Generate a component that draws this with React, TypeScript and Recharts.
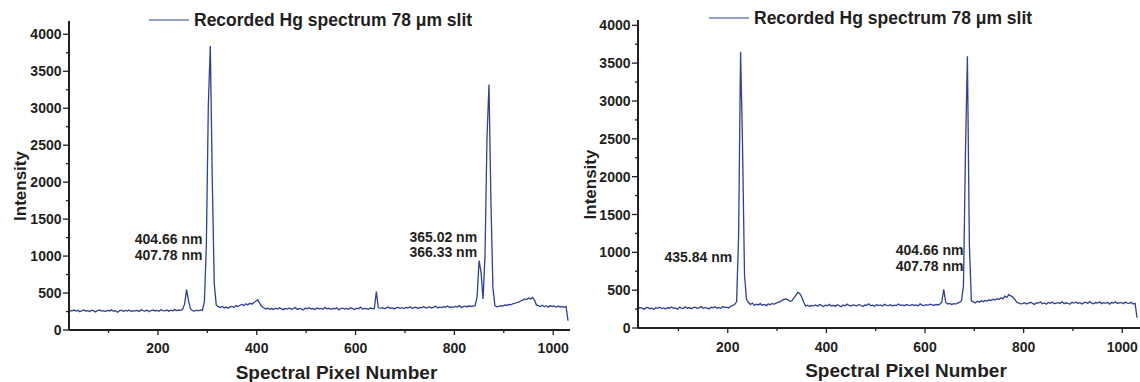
import React from 'react';
import { LineChart, Line, XAxis, YAxis, Legend, ReferenceDot } from 'recharts';

// ---------- data ----------
const PIXEL_START = 18;
const PIXEL_STEP = 4;

const seriesName = 'Recorded Hg spectrum 78 \u03bcm slit';

// left panel: intensity sampled every 4 spectral pixels starting at pixel 18
const leftIntensity = [
  250, 262, 258, 270, 255, 266, 248, 260, 272, 257,
  263, 251, 268, 259, 245, 264, 270, 256, 261, 249,
  266, 258, 273, 254, 262, 240, 259, 268, 253, 265,
  257, 271, 250, 263, 258, 266, 252, 274, 261, 255,
  269, 247, 263, 272, 258, 266, 253, 275, 262, 258,
  270, 255, 268, 260, 276, 264,
  270, 265, 280, 350, 545, 390, 285, 262, 255, 268, 260, 272, 265,
  380, 1150, 3040, 3840, 2020, 625, 340,
  315, 305, 320, 298, 310, 295, 312, 320, 305, 330, 318, 335, 345, 330, 355, 340, 362, 350, 370, 390, 410, 360, 320, 300, 285, 295, 280,
  290, 278, 295, 283, 300, 286, 275, 292, 284, 298,
  281, 289, 304, 279, 293, 286, 270, 295, 288, 301,
  283, 290, 276, 297, 285, 292, 280, 306, 287, 294,
  279, 291, 285, 299, 272, 290, 296, 284, 293, 281,
  300, 288, 277, 295, 286, 309, 283, 292, 290, 280,
  297, 288,
  292, 520, 300,
  295, 303, 288, 299, 310, 292, 301, 285, 298, 306, 294,
  302, 291, 306, 298, 314, 293, 301, 308, 290, 305, 300,
  318, 297, 305, 312, 296, 309, 322, 301, 310, 304, 316,
  308, 325, 303, 313, 306, 320, 311, 329, 305, 316, 322,
  312, 327, 318, 324, 330,
  450, 940, 780, 420, 1000, 2600, 3320, 1730, 570,
  330, 315, 320, 330, 325, 338, 332, 345, 340, 355,
  360, 372, 378, 392, 405, 420, 412, 432, 420, 440,
  405, 340, 330, 318, 335, 315, 328, 310, 330, 318,
  325, 308, 326, 312, 320, 306, 318, 125,
];

// right panel: intensity sampled every 4 spectral pixels starting at pixel 18
const rightIntensity = [
  258, 270, 262, 249, 266, 272, 255, 263, 245, 268,
  260, 274, 257, 265, 251, 270, 262, 278, 259, 266,
  248, 273, 264, 257, 281, 262, 270, 255, 268, 276,
  260, 266, 285, 258, 271, 263, 252, 274, 268, 280,
  262, 271, 258, 283, 270, 276, 265, 288,
  300, 310, 350, 1210, 3650, 2400, 700, 380, 340, 310, 330,
  298, 315, 305, 322, 300, 312, 296, 318, 308, 325, 314, 330, 340,
  345, 365, 378, 385, 372, 352, 360, 395, 430, 470, 455, 410, 340, 290, 302, 285, 298,
  292, 305, 288, 310, 298, 284, 302, 295, 312, 290,
  300, 286, 307, 296, 280, 303, 293, 315, 298, 289,
  306, 300, 292, 311, 297, 285, 304, 299, 320, 294,
  301, 288, 309, 296, 305, 291, 313, 300, 295, 308,
  290, 303, 297, 316, 299, 306, 293, 310, 301, 296,
  312, 298, 305, 292, 318, 303, 297, 309, 300, 314,
  306, 298, 311, 304, 316,
  340, 510, 340, 318, 325, 310, 322, 315, 330, 338, 360, 560, 2300, 3590, 1100, 360,
  345, 330, 352, 340, 360, 348, 365, 355, 372, 362,
  380, 370, 388, 378, 400, 385, 420, 405, 440, 425,
  410, 380, 340, 330, 318,
  322, 335, 318, 330, 340, 325, 312, 333, 328, 345,
  320, 331, 315, 338, 326, 342, 319, 330, 336, 324,
  348, 321, 333, 327, 314, 339, 330, 344, 323, 335,
  318, 332, 341, 326, 350, 329, 320, 337, 331, 345,
  322, 334, 327, 340, 316, 336, 329, 347, 324, 333,
  338, 321, 342, 330, 326, 339, 318, 325,
  135,
];

const xTicks = [100, 200, 300, 400, 500, 600, 700, 800, 900, 1000];
const xLabelTicks = [200, 400, 600, 800, 1000];
const yTicks = [0, 250, 500, 750, 1000, 1250, 1500, 1750, 2000, 2250, 2500, 2750, 3000, 3250, 3500, 3750, 4000];
const yLabelTicks = [0, 500, 1000, 1500, 2000, 2500, 3000, 3500, 4000];

const leftAnnotationLines = [['404.66 nm', '407.78 nm'], ['365.02 nm', '366.33 nm']];
const leftAnnotationAnchors = [[290, 1159], [846, 1194]];
const rightAnnotationLines = [['435.84 nm'], ['404.66 nm', '407.78 nm']];
const rightAnnotationAnchors = [[209, 876], [678, 964]];

const toData = (values: number[]) =>
  values.map((v, i) => ({ pixel: PIXEL_START + i * PIXEL_STEP, intensity: v }));

const leftData = toData(leftIntensity);
const rightData = toData(rightIntensity);

// ---------- styles ----------
const LINE_COLOR = '#2f4194';
const AXIS_COLOR = '#231f20';
const TEXT_COLOR = '#231f20';
const FONT = '"Liberation Sans", Arial, Helvetica, sans-serif';

const YTick = (props: any) => {
  const { x, y, payload } = props;
  const v = payload.value;
  const major = yLabelTicks.includes(v);
  const len = major ? 6 : 3;
  return (
    <g>
      <line x1={x - len} x2={x} y1={y} y2={y} stroke={AXIS_COLOR} strokeWidth={1.3} />
      {major && (
        <text x={x - 7.5} y={y} dy="0.36em" textAnchor="end" fontFamily={FONT} fontWeight="bold" fontSize={14} fill={TEXT_COLOR}>
          {v}
        </text>
      )}
    </g>
  );
};

const makeXTick = (labelDy: number) => (props: any) => {
  const { x, y, payload } = props;
  const v = payload.value;
  const major = xLabelTicks.includes(v);
  const len = major ? 5 : 3;
  return (
    <g>
      <line x1={x} x2={x} y1={y} y2={y + len} stroke={AXIS_COLOR} strokeWidth={1.3} />
      {major && (
        <text x={x} y={y + labelDy} textAnchor="middle" fontFamily={FONT} fontWeight="bold" fontSize={14} fill={TEXT_COLOR}>
          {v}
        </text>
      )}
    </g>
  );
};

const LegendBox = () => (
  <svg width={340} height={26} style={{ display: 'block', overflow: 'visible' }}>
    <line x1={0} x2={40} y1={12} y2={12} stroke={LINE_COLOR} strokeWidth={1.2} />
    <text x={45} y={17.5} fontFamily={FONT} fontWeight="bold" fontSize={17.5} fill={TEXT_COLOR}>
      {seriesName}
    </text>
  </svg>
);

const AnnotationText = ({ viewBox, lines }: any) => {
  if (!viewBox) return null;
  return (
    <text x={viewBox.x} y={viewBox.y} textAnchor="end" fontFamily={FONT} fontWeight="bold" fontSize={14} fill={TEXT_COLOR}>
      {lines.map((l: string, i: number) => (
        <tspan key={i} x={viewBox.x} dy={i === 0 ? 0 : 15.7}>
          {l}
        </tspan>
      ))}
    </text>
  );
};

type ChartProps = {
  data: { pixel: number; intensity: number }[];
  xDomain: [number, number];
  yDomain: [number, number];
  width: number;
  marginTop: number;
  marginRight: number;
  yAxisWidth: number;
  xAxisHeight: number;
  legendLeft: number;
  legendTop: number;
  xLabelDy: number;
  yTitleX: number;
  annotationLines: string[][];
  annotationAnchors: number[][];
};

const SpectrumChart = (p: ChartProps) => {
  const XTick = makeXTick(p.xLabelDy);
  return (
    <LineChart
      width={p.width}
      height={382}
      data={p.data}
      margin={{ top: p.marginTop, right: p.marginRight, bottom: 0, left: 0 }}
    >
      <XAxis
        dataKey="pixel"
        type="number"
        domain={p.xDomain}
        ticks={xTicks}
        allowDataOverflow
        interval={0}
        height={p.xAxisHeight}
        tickSize={0}
        tickMargin={0}
        tickLine={false}
        tick={<XTick />}
        axisLine={{ stroke: AXIS_COLOR, strokeWidth: 2 }}
        label={(lp: any) => {
          const vb = lp.viewBox;
          return (
            <text
              x={vb.x + vb.width / 2 + 17}
              y={vb.y + 49}
              textAnchor="middle"
              fontFamily={FONT}
              fontWeight="bold"
              fontSize={19}
              fill={TEXT_COLOR}
            >
              Spectral Pixel Number
            </text>
          );
        }}
      />
      <YAxis
        type="number"
        domain={p.yDomain}
        ticks={yTicks}
        allowDataOverflow
        interval={0}
        width={p.yAxisWidth}
        tickSize={0}
        tickMargin={0}
        tickLine={false}
        tick={<YTick />}
        axisLine={{ stroke: AXIS_COLOR, strokeWidth: 2 }}
        label={(lp: any) => {
          const vb = lp.viewBox;
          const cy = vb.y + vb.height / 2 + 10.5;
          return (
            <text
              transform={`translate(${vb.x + p.yTitleX},${cy}) rotate(-90)`}
              textAnchor="middle"
              fontFamily={FONT}
              fontWeight="bold"
              fontSize={17}
              fill={TEXT_COLOR}
            >
              Intensity
            </text>
          );
        }}
      />
      <Legend
        layout="horizontal"
        verticalAlign="middle"
        align="center"
        content={<LegendBox />}
        wrapperStyle={{ left: p.legendLeft, top: p.legendTop, width: 'auto' }}
      />
      <Line
        type="linear"
        dataKey="intensity"
        name={seriesName}
        stroke={LINE_COLOR}
        strokeWidth={1.3}
        dot={false}
        activeDot={false}
        isAnimationActive={false}
      />
      {p.annotationAnchors.map((a, i) => (
        <ReferenceDot
          key={i}
          x={a[0]}
          y={a[1]}
          r={0}
          fill="none"
          stroke="none"
          ifOverflow="visible"
          label={(lp: any) => <AnnotationText viewBox={lp.viewBox} lines={p.annotationLines[i]} />}
        />
      ))}
    </LineChart>
  );
};

export default function App() {
  return (
    <div style={{ position: 'absolute', left: 0, top: 0, width: 1140, height: 382, background: '#fff', overflow: 'hidden' }}>
      <div style={{ position: 'absolute', left: 0, top: 0 }}>
        <SpectrumChart
          data={leftData}
          xDomain={[20, 1034]}
          yDomain={[0, 4180]}
          width={575}
          marginTop={21}
          marginRight={5}
          yAxisWidth={69}
          xAxisHeight={52}
          legendLeft={149}
          legendTop={8}
          xLabelDy={23}
          yTitleX={26}
          annotationLines={leftAnnotationLines}
          annotationAnchors={leftAnnotationAnchors}
        />
      </div>
      <div style={{ position: 'absolute', left: 570, top: 0 }}>
        <SpectrumChart
          data={rightData}
          xDomain={[18, 1036]}
          yDomain={[0, 4070]}
          width={570}
          marginTop={20}
          marginRight={0}
          yAxisWidth={68}
          xAxisHeight={54}
          legendLeft={139}
          legendTop={6}
          xLabelDy={24}
          yTitleX={25.5}
          annotationLines={rightAnnotationLines}
          annotationAnchors={rightAnnotationAnchors}
        />
      </div>
    </div>
  );
}
